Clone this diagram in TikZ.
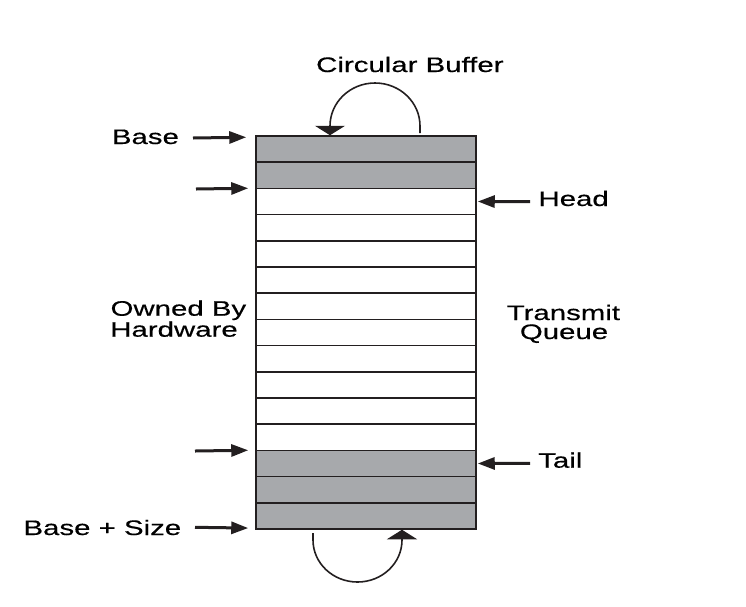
\documentclass[tikz,border=0pt]{standalone}
\usepackage{fontspec}
\setmainfont{Liberation Sans}[FakeStretch=1.40,FakeBold=0.4]
\usetikzlibrary{arrows.meta}
\definecolor{slotgray}{HTML}{A7A9AC}
\definecolor{ink}{HTML}{231F20}
\tikzset{
  slot/.style={draw=ink, line width=1.5pt, minimum width=220pt, minimum height=26.2pt, inner sep=0pt, fill=white},
  fullslot/.style={slot, fill=slotgray},
  lbl/.style={inner sep=0pt, font=\fontsize{21}{21}\selectfont, text=black},
  ptr/.style={draw=ink, line width=3pt, -{Triangle[length=17pt,width=12pt]}},
  wrap/.style={draw=ink, line width=1.6pt, -{Triangle[length=9.5pt,width=30pt]}}
}
\begin{document}
\begin{tikzpicture}[x=1pt,y=-1pt]
\useasboundingbox (0,0) rectangle (746,606);
% ring slots
\foreach \i in {1,...,15}{
  \pgfmathsetmacro{\yc}{136+26.2*(\i-0.5)}
  \ifnum\i<3
    \node[fullslot] (r\i) at (366,\yc) {};
  \else\ifnum\i>12
    \node[fullslot] (r\i) at (366,\yc) {};
  \else
    \node[slot] (r\i) at (366,\yc) {};
  \fi\fi
}
% labels
\node[lbl, anchor=base west] (cb) at (316,72) {Circular Buffer};
\node[lbl, anchor=base west] (base) at (111.7,144) {Base};
\node[lbl, anchor=base west] (head) at (538.3,206) {Head};
\node[lbl, anchor=base] (own1) at (178.4,315.7) {Owned By};
\node[lbl, anchor=base] (own2) at (174,336.7) {Hardware};
\node[lbl, anchor=base] (tq1) at (563.4,320) {Transmit};
\node[lbl, anchor=base] (tq2) at (564,339) {Queue};
\node[lbl, anchor=base west] (tail) at (538,467.7) {Tail};
\node[lbl, anchor=base west] (bs) at (23.3,535) {Base + Size};
% pointer start points
\coordinate (pa) at (193,138);
\coordinate (pb) at (196,189);
\coordinate (pc) at (195,451);
\coordinate (pd) at (195,527.3);
\coordinate (ph) at (530,201.7);
\coordinate (pt) at (530,463.3);
\draw[ptr] (pa) -- ([shift={(-9,2)}]r1.north west);
\draw[ptr] (pb) -- ([shift={(-7,0.6)}]r3.north west);
\draw[ptr] (pc) -- ([shift={(-7,0.6)}]r13.north west);
\draw[ptr] (pd) -- ([shift={(-7,-1.7)}]r15.south west);
\draw[ptr] (ph) -- ([xshift=1pt]r3.east);
\draw[ptr] (pt) -- ([xshift=1pt]r13.east);
% wrap-around arrows
\coordinate (ta) at (420,133);
\draw[wrap] (ta) -- (420,126) arc[start angle=0, end angle=-180, x radius=45, y radius=43] -- ([xshift=-36pt]r1.north);
\coordinate (ba) at (313,533);
\draw[wrap] (ba) -- (313,540) arc[start angle=180, end angle=0, x radius=44.5, y radius=42] -- ([xshift=36pt]r15.south);
\end{tikzpicture}
\end{document}
